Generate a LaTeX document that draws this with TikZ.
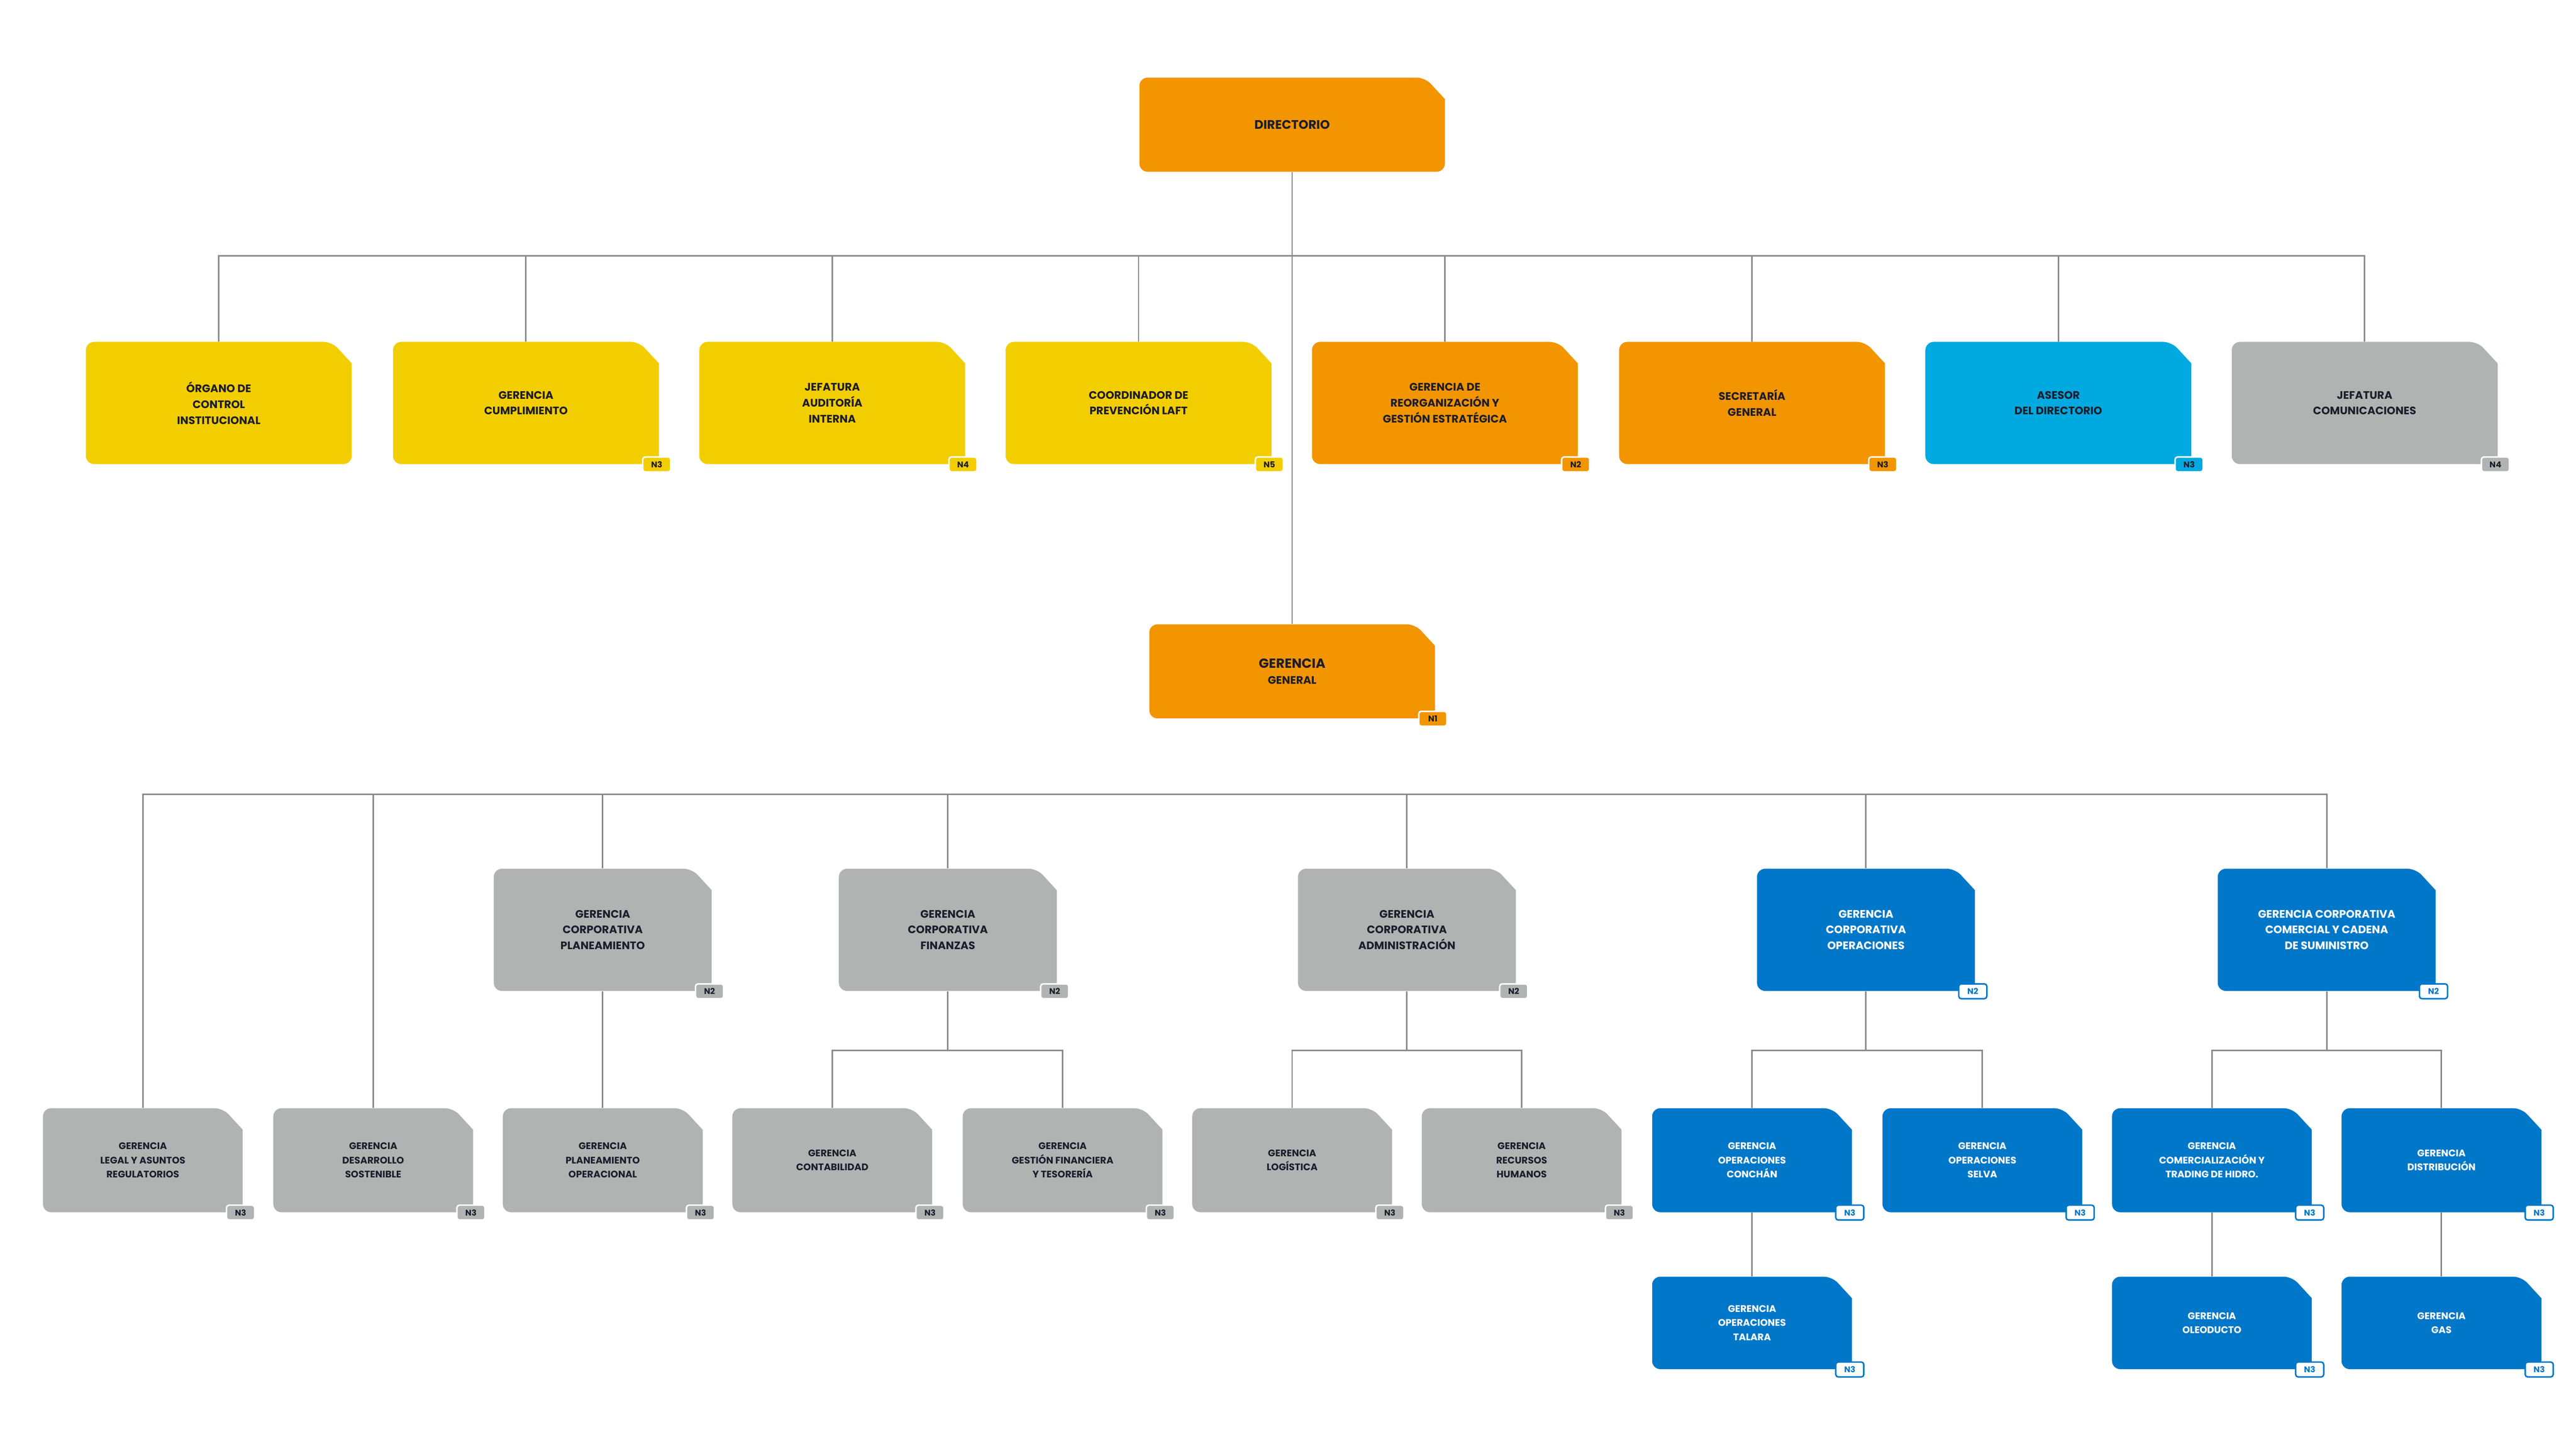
\documentclass[tikz,border=0pt]{standalone}
\usepackage{fontspec}
\setmainfont{Poppins}
\usetikzlibrary{positioning,calc}

% filled unit: name, x, y, width, height, colour, text colour, text
\newcommand\orgunit[8]{%
  \fill[#6] (#2+#4/2-12,#3-#5/2) -- (#2+#4/2,#3-#5/2+13) [rounded corners=5pt]
    -- (#2+#4/2,#3+#5/2) -- (#2-#4/2,#3+#5/2) -- (#2-#4/2,#3-#5/2) -- cycle;
  \node[unit, text=#7, minimum width=#4pt, minimum height=#5pt] (#1) at (#2,#3) {#8};
}
% level tag: node, colour, text colour, border colour, label
\newcommand\orgtag[5]{%
  \node[tag, fill=#2, text=#3, draw=#4] (#1-tag) at ([xshift=-1.5pt]#1.south east) {#5};
}

\begin{document}
\begin{tikzpicture}[x=1pt,y=-1pt,
    unit/.style={inner sep=0pt, align=center, font=\fontsize{6.6}{9.6}\selectfont\bfseries},
    small/.style={font=\fontsize{5.8}{8.6}\selectfont\bfseries},
    tag/.style={rounded corners=1.5pt, line width=0.9pt, minimum width=17pt, minimum height=9pt,
      inner sep=0pt, font=\fontsize{5}{5}\selectfont\bfseries},
    link/.style={draw=linecolor, line width=0.9pt}]
    \definecolor{yellowunit}{HTML}{F2CE00}
    \definecolor{orangeunit}{HTML}{F29500}
    \definecolor{cyanunit}{HTML}{00A9E0}
    \definecolor{grayunit}{HTML}{B1B3B3}
    \definecolor{blueunit}{HTML}{0077C8}
    \definecolor{darktext}{HTML}{1D1D2B}
    \definecolor{linecolor}{HTML}{8A8A8A}

    \useasboundingbox (0,0) rectangle (1560,877.2);

    % Draw board level
    \orgunit{dir}{782.5}{75.5}{185}{57}{orangeunit}{darktext}{\fontsize{7.5}{10}\selectfont DIRECTORIO}

    \orgunit{oci}{132.5}{244}{161}{74}{yellowunit}{darktext}{ÓRGANO DE\\CONTROL\\INSTITUCIONAL}
    \orgunit{cum}{318.5}{244}{161}{74}{yellowunit}{darktext}{GERENCIA\\CUMPLIMIENTO}
    \orgunit{aud}{504}{244}{161}{74}{yellowunit}{darktext}{JEFATURA\\AUDITORÍA\\INTERNA}
    \orgunit{laft}{689.5}{244}{161}{74}{yellowunit}{darktext}{COORDINADOR DE\\PREVENCIÓN LAFT}
    \orgunit{reo}{875}{244}{161}{74}{orangeunit}{darktext}{GERENCIA DE\\REORGANIZACIÓN Y\\GESTIÓN ESTRATÉGICA}
    \orgunit{sec}{1061}{244}{161}{74}{orangeunit}{darktext}{SECRETARÍA\\GENERAL}
    \orgunit{ase}{1246.5}{244}{161}{74}{cyanunit}{darktext}{ASESOR\\DEL DIRECTORIO}
    \orgunit{com}{1432}{244}{161}{74}{grayunit}{darktext}{JEFATURA\\COMUNICACIONES}

    \orgtag{cum}{yellowunit}{darktext}{white}{N3}
    \orgtag{aud}{yellowunit}{darktext}{white}{N4}
    \orgtag{laft}{yellowunit}{darktext}{white}{N5}
    \orgtag{reo}{orangeunit}{darktext}{white}{N2}
    \orgtag{sec}{orangeunit}{darktext}{white}{N3}
    \orgtag{ase}{cyanunit}{darktext}{white}{N3}
    \orgtag{com}{grayunit}{darktext}{white}{N4}

    % Draw general management
    \orgunit{gg}{782.5}{406.5}{173}{57}{orangeunit}{darktext}{\fontsize{8}{12}\selectfont GERENCIA\\GENERAL}
    \orgtag{gg}{orangeunit}{darktext}{white}{N1}

    \orgunit{pla}{365}{563}{132}{74}{grayunit}{darktext}{GERENCIA\\CORPORATIVA\\PLANEAMIENTO}
    \orgunit{fin}{574}{563}{132}{74}{grayunit}{darktext}{GERENCIA\\CORPORATIVA\\FINANZAS}
    \orgunit{adm}{852}{563}{132}{74}{grayunit}{darktext}{GERENCIA\\CORPORATIVA\\ADMINISTRACIÓN}
    \orgunit{ope}{1130}{563}{132}{74}{blueunit}{white}{GERENCIA\\CORPORATIVA\\OPERACIONES}
    \orgunit{cad}{1409}{563}{132}{74}{blueunit}{white}{GERENCIA CORPORATIVA\\COMERCIAL Y CADENA\\DE SUMINISTRO}
    \foreach \n in {pla,fin,adm} {\orgtag{\n}{grayunit}{darktext}{white}{N2}}
    \foreach \n in {ope,cad} {\orgtag{\n}{white}{blueunit}{blueunit}{N2}}

    % Draw third level
    \begin{scope}[unit/.append style={small}]
        \orgunit{leg}{86.5}{702.5}{121}{63}{grayunit}{darktext}{GERENCIA\\LEGAL Y ASUNTOS\\REGULATORIOS}
        \orgunit{sos}{226}{702.5}{121}{63}{grayunit}{darktext}{GERENCIA\\DESARROLLO\\SOSTENIBLE}
        \orgunit{plo}{365}{702.5}{121}{63}{grayunit}{darktext}{GERENCIA\\PLANEAMIENTO\\OPERACIONAL}
        \orgunit{cnt}{504}{702.5}{121}{63}{grayunit}{darktext}{GERENCIA\\CONTABILIDAD}
        \orgunit{tes}{643.5}{702.5}{121}{63}{grayunit}{darktext}{GERENCIA\\GESTIÓN FINANCIERA\\Y TESORERÍA}
        \orgunit{log}{782.5}{702.5}{121}{63}{grayunit}{darktext}{GERENCIA\\LOGÍSTICA}
        \orgunit{rrh}{921.5}{702.5}{121}{63}{grayunit}{darktext}{GERENCIA\\RECURSOS\\HUMANOS}
        \orgunit{con}{1061}{702.5}{121}{63}{blueunit}{white}{GERENCIA\\OPERACIONES\\CONCHÁN}
        \orgunit{sel}{1200.5}{702.5}{121}{63}{blueunit}{white}{GERENCIA\\OPERACIONES\\SELVA}
        \orgunit{tra}{1339.5}{702.5}{121}{63}{blueunit}{white}{GERENCIA\\COMERCIALIZACIÓN Y\\TRADING DE HIDRO.}
        \orgunit{dis}{1478.5}{702.5}{121}{63}{blueunit}{white}{GERENCIA\\DISTRIBUCIÓN}
        \orgunit{tal}{1061}{801}{121}{56}{blueunit}{white}{GERENCIA\\OPERACIONES\\TALARA}
        \orgunit{ole}{1339.5}{801}{121}{56}{blueunit}{white}{GERENCIA\\OLEODUCTO}
        \orgunit{gas}{1478.5}{801}{121}{56}{blueunit}{white}{GERENCIA\\GAS}
    \end{scope}
    \foreach \n in {leg,sos,plo,cnt,tes,log,rrh} {\orgtag{\n}{grayunit}{darktext}{white}{N3}}
    \foreach \n in {con,sel,tra,dis,tal,ole,gas} {\orgtag{\n}{white}{blueunit}{blueunit}{N3}}

    % Draw connectors
    \coordinate (busA) at (0,155);
    \coordinate (busB) at (0,481);
    \coordinate (busC) at (0,636);
    \begin{scope}[on background layer/.style={}]
        \draw[link] (dir.south) -- (gg.north);
        \foreach \n in {oci,cum,aud,laft,reo,sec,ase,com}
            \draw[link] (dir.south |- busA) -| (\n.north);
        \foreach \n in {leg,sos,pla,fin,adm,ope,cad}
            \draw[link] (gg.south |- busB) -| (\n.north);
        \draw[link] (pla.south) -- (plo.north);
        \foreach \p/\c in {fin/cnt,fin/tes,adm/log,adm/rrh,ope/con,ope/sel,cad/tra,cad/dis}
            \draw[link] (\p.south) -- (\p.south |- busC) -| (\c.north);
        \draw[link] (con.south) -- (tal.north);
        \draw[link] (tra.south) -- (ole.north);
        \draw[link] (dis.south) -- (gas.north);
    \end{scope}
\end{tikzpicture}
\end{document}
